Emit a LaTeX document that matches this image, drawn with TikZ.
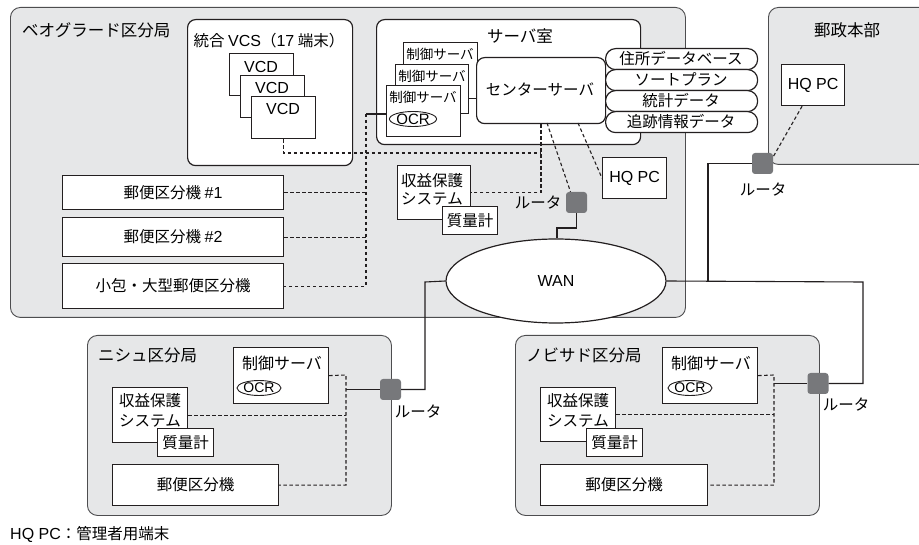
\documentclass[tikz,border=0pt]{standalone}
\usepackage{fontspec}
\setmainfont{Noto Sans CJK JP}
\newfontfamily\lat{Liberation Sans}
\usetikzlibrary{shapes.geometric}
\definecolor{regfill}{HTML}{E6E7E8}
\definecolor{lin}{HTML}{231F20}
\definecolor{rtfill}{HTML}{77787B}
\definecolor{regline}{HTML}{4D4D4F}
\tikzset{
 region/.style={draw=regline, fill=regfill, line width=0.9pt, rounded corners=10pt, inner sep=0, anchor=north west},
 whitebox/.style={draw=lin, fill=white, line width=1.2pt, inner sep=0, anchor=north west, font=\fontsize{15.5}{18}\selectfont},
 roundbox/.style={whitebox, rounded corners=8pt},
 stadium/.style={whitebox, rounded corners=10pt, minimum width=152pt, minimum height=21pt},
 router/.style={draw=none, fill=rtfill, rounded corners=3pt, minimum size=21pt, inner sep=0},
 txt/.style={inner sep=0, font=\fontsize{15.5}{18}\selectfont},
 bigtxt/.style={inner sep=0, font=\fontsize{16.5}{18}\selectfont},
 stxt/.style={inner sep=0, font=\fontsize{13.5}{16}\selectfont},
 ocr/.style={ellipse, draw=lin, fill=white, line width=0.9pt, minimum height=15pt, inner sep=0},
 solidcon/.style={draw=lin, line width=1.1pt},
 dashcon/.style={draw=lin, line width=1.1pt, dash pattern=on 3.5pt off 2.5pt},
}
\begin{document}
\begin{tikzpicture}[x=1pt,y=-1pt]
\useasboundingbox (0,0) rectangle (919,545);
% regions
\node[region, minimum width=675pt, minimum height=310pt] (bel) at (10,7) {};
\node[bigtxt, anchor=west] (belt) at (22,30) {ベオグラード区分局};
\node[region, minimum width=180pt, minimum height=157pt] (hq) at (768,7) {};
\node[bigtxt] (hqt) at (847,30) {郵政本部};
\node[region, minimum width=304pt, minimum height=180pt] (nis) at (87,335) {};
\node[bigtxt, anchor=west] (nist) at (98,355) {ニシュ区分局};
\node[region, minimum width=304pt, minimum height=180pt] (nob) at (515,335) {};
\node[bigtxt, anchor=west] (nobt) at (526,355) {ノビサド区分局};

% HQ
\node[whitebox, minimum width=63pt, minimum height=41pt, font=\lat\fontsize{16}{18}\selectfont] (hqpc2) at (781,64) {HQ PC};

% VCS
\node[roundbox, minimum width=165pt, minimum height=146pt] (vcs) at (187,19) {};
\node[txt] (vcst) at (269,41) {統合 {\lat\fontsize{16}{18}\selectfont VCS}（{\lat\fontsize{16}{18}\selectfont 17} 端末）};
\node[whitebox, minimum width=64pt, minimum height=42pt] (vcd1) at (229,53) {};
\node[txt, font=\lat\fontsize{16}{18}\selectfont] (vcd1t) at (261,67) {VCD};
\node[whitebox, minimum width=64pt, minimum height=42pt] (vcd2) at (240,75) {};
\node[txt, font=\lat\fontsize{16}{18}\selectfont] (vcd2t) at (272,88) {VCD};
\node[whitebox, minimum width=64pt, minimum height=42pt] (vcd3) at (251,96) {};
\node[txt, font=\lat\fontsize{16}{18}\selectfont] (vcd3t) at (283,109) {VCD};

% server room
\node[roundbox, minimum width=264pt, minimum height=125pt] (srv) at (376,19) {};
\node[txt, font=\fontsize{16.5}{18}\selectfont] (srvt) at (520,36) {サーバ室};
\node[whitebox, minimum width=74pt, minimum height=56pt] (cs1) at (403,42) {};
\node[stxt] (cs1t) at (440,54) {制御サーバ};
\node[whitebox, minimum width=73pt, minimum height=49pt] (cs2) at (395,64) {};
\node[stxt] (cs2t) at (432,76) {制御サーバ};
\node[whitebox, minimum width=74pt, minimum height=51pt] (cs3) at (386,85) {};
\node[stxt] (cs3t) at (423,97) {制御サーバ};
\node[ocr, minimum width=42pt, font=\lat\fontsize{15}{15}\selectfont] (ocr1) at (413,119) {OCR};
\node[roundbox, minimum width=129pt, minimum height=66pt] (ctr) at (476,57) {};
\node[txt] (ctrt) at (540,90) {センターサーバ};
\node[stadium] (db1) at (605,48) {};
\node[txt] (db1t) at (681,58.5) {住所データベース};
\node[stadium] (db2) at (605,69) {};
\node[txt] (db2t) at (681,79.5) {ソートプラン};
\node[stadium] (db3) at (605,90) {};
\node[txt] (db3t) at (681,100.5) {統計データ};
\node[stadium] (db4) at (605,111) {};
\node[txt] (db4t) at (681,121.5) {追跡情報データ};

% sorters
\node[whitebox, minimum width=221pt, minimum height=34pt] (s1) at (62,175) {郵便区分機 {\lat\fontsize{16}{18}\selectfont \#1}};
\node[whitebox, minimum width=221pt, minimum height=39pt] (s2) at (62,217) {郵便区分機 {\lat\fontsize{16}{18}\selectfont \#2}};
\node[whitebox, minimum width=221pt, minimum height=45pt] (s3) at (62,263) {小包・大型郵便区分機};

% revenue protection main
\node[whitebox, minimum width=73pt, minimum height=54pt] (rev) at (397,165) {};
\node[txt, align=center] (revt) at (432,189) {収益保護\\システム};
\node[whitebox, minimum width=55pt, minimum height=28pt] (mass) at (442,206) {質量計};

% HQ PC main
\node[whitebox, minimum width=64pt, minimum height=41pt, font=\lat\fontsize{16}{18}\selectfont] (hqpc1) at (602,157) {HQ PC};

% routers
\node[router] (rt1) at (576.5,202.5) {};
\node[txt] (rt1t) at (538,203) {ルータ};
\node[router] (rt4) at (762.5,163.5) {};
\node[txt] (rt4t) at (763,190) {ルータ};
\node[router] (rt2) at (390.5,389.5) {};
\node[txt] (rt2t) at (418,412) {ルータ};
\node[router] (rt3) at (818,383.5) {};
\node[txt] (rt3t) at (846,405) {ルータ};

% Nishu contents
\node[whitebox, minimum width=95pt, minimum height=56pt] (ncs) at (233,347) {};
\node[txt, font=\fontsize{16}{18}\selectfont] (ncst) at (282,363) {制御サーバ};
\node[ocr, minimum width=36pt, font=\lat\fontsize{14}{15}\selectfont] (nocr) at (259,388) {OCR};
\node[whitebox, minimum width=75pt, minimum height=55pt] (nrev) at (112,387) {};
\node[txt, align=center, font=\fontsize{15.5}{20}\selectfont] (nrevt) at (150,410) {収益保護\\システム};
\node[whitebox, minimum width=56pt, minimum height=28pt] (nmass) at (157,428) {質量計};
\node[whitebox, minimum width=166pt, minimum height=41pt] (nsort) at (112,464) {郵便区分機};

% Nobisado contents
\node[whitebox, minimum width=95pt, minimum height=56pt] (bcs) at (662,347) {};
\node[txt, font=\fontsize{16}{18}\selectfont] (bcst) at (711,363) {制御サーバ};
\node[ocr, minimum width=36pt, font=\lat\fontsize{14}{15}\selectfont] (bocr) at (690,388) {OCR};
\node[whitebox, minimum width=75pt, minimum height=54pt] (brev) at (540,387) {};
\node[txt, align=center, font=\fontsize{15.5}{20}\selectfont] (brevt) at (578,410) {収益保護\\システム};
\node[whitebox, minimum width=56pt, minimum height=28pt] (bmass) at (586,428) {質量計};
\node[whitebox, minimum width=167pt, minimum height=41pt] (bsort) at (540,464) {郵便区分機};

% WAN
\node[ellipse, draw=lin, fill=white, line width=1.2pt, minimum width=220pt, minimum height=84pt, inner sep=0, font=\lat\fontsize{16}{18}\selectfont] (wan) at (556,281) {WAN};

% connectors main
\coordinate (j1) at (366,114);
\coordinate (k1) at (541,153);
\coordinate (k2) at (547,123);
\coordinate (k3) at (578,123);
\coordinate (k4) at (557,228);
\coordinate (k5) at (425,282);
\coordinate (k6) at (863,282);
\coordinate (k7) at (708,282);
\draw[solidcon] (j1) -- (j1 -| cs3.west);
\draw[dashcon] (j1) -- (j1 |- s3.east) -- (s3.east);
\draw[dashcon] (s1.east) -- (s1.east -| j1);
\draw[dashcon] (s2.east) -- (s2.east -| j1);
\draw[dashcon] (vcd3.south) |- (k1);
\draw[dashcon] (k1 |- ctr.south) |- (rev.east);
\draw[dashcon] (k2) -- ([xshift=-6pt]rt1.north);
\draw[dashcon] (k3) -- (hqpc1.west);
\draw[solidcon] (rt1.south) |- (k4) -- (k4 |- wan.north);
\draw[solidcon] (wan.west) -- (k5) |- (rt2.east);
\draw[solidcon] (wan.east) -- (k6) |- (rt3.east);
\draw[solidcon] (rt4.west) -| (k7);
\draw[dashcon] ([xshift=-11pt]hqpc2.south) -- ([yshift=-4pt]rt4.north east);

% Nishu connectors
\coordinate (n1) at (346,375);
\draw[dashcon] (ncs.east) -- (n1) -- (n1 |- nsort.east) -- (nsort.east);
\draw[dashcon] (nrev.east) -- (nrev.east -| n1);
\draw[solidcon] (rt2.west) -- (rt2.west -| n1);

% Nobisado connectors
\coordinate (n2) at (774,375);
\draw[dashcon] (bcs.east) -- (n2) -- (n2 |- bsort.east) -- (bsort.east);
\draw[dashcon] (brev.east) -- (brev.east -| n2);
\draw[solidcon] (rt3.west) -- (rt3.west -| n2);

% footer
\node[txt, anchor=west] (foot) at (10,534) {{\lat\fontsize{16}{18}\selectfont HQ PC}：管理者用端末};
\end{tikzpicture}
\end{document}
